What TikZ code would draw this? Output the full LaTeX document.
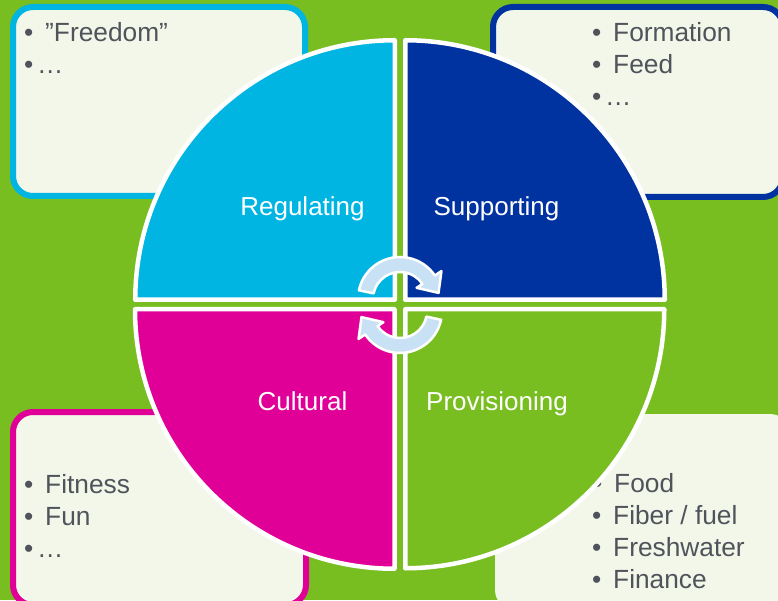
\documentclass[tikz,border=0pt]{standalone}
\usepackage{fontspec}
\setmainfont{Liberation Sans}
\definecolor{bggreen}{RGB}{120,190,32}
\definecolor{qcyan}{RGB}{0,181,226}
\definecolor{qblue}{RGB}{0,51,160}
\definecolor{qmag}{RGB}{224,0,152}
\definecolor{boxfill}{RGB}{242,247,234}
\definecolor{txtgrey}{RGB}{80,84,90}
\definecolor{arrowfill}{RGB}{200,225,244}
\newcommand{\bul}{\makebox[21pt][l]{•}}
\newcommand{\bulx}{\makebox[13pt][l]{•}}
\tikzset{
  infobox/.style={fill=boxfill, line width=6pt, rounded corners=20pt},
  quad/.style={draw=white, line width=4.5pt, line join=round},
  biglabel/.style={text=white, font=\fontsize{26}{30}\selectfont, anchor=base, inner sep=0pt},
  bullets/.style={text=txtgrey, font=\fontsize{26.3}{32}\selectfont, anchor=base west, inner sep=0pt, align=left},
  cyc/.style={fill=arrowfill, draw=white, line width=2.5pt, line join=round}
}
\begin{document}
\begin{tikzpicture}[x=1pt,y=1pt]
\useasboundingbox (0,0) rectangle (778,600);
\clip (0,0) rectangle (778,600);
\fill[bggreen] (0,0) rectangle (778,600);
% boxes
\draw[infobox, draw=qcyan] (13,593) rectangle (305,404);
\draw[infobox, draw=qblue] (493,593) rectangle (783,403);
\draw[infobox, draw=qmag] (13,188) rectangle (306,-5);
\fill[boxfill, rounded corners=20pt] (495,186) rectangle (790,-10);
% box texts
\node[bullets] (tltext) at (24,558) {\bul ”Freedom”};
\node[bullets] (tltext2) at (24,526) {\bulx …};
\node[bullets] (trtext) at (592,558) {\bul Formation};
\node[bullets] (trtext2) at (592,526) {\bul Feed};
\node[bullets] (trtext3) at (592,494) {\bulx …};
\node[bullets] (bltext) at (24,107) {\bul Fitness};
\node[bullets] (bltext2) at (24,75) {\bul Fun};
\node[bullets] (bltext3) at (24,43) {\bulx …};
\node[bullets] (brtext) at (593,108) {\bul Food};
\node[bullets] (brtext2) at (592,76) {\bul Fiber / fuel};
\node[bullets] (brtext3) at (592,44) {\bul Freshwater};
\node[bullets] (brtext4) at (592,12) {\bul Finance};
% quadrants
\draw[quad, fill=qcyan] (394.75,300.25) -- ++(180:259.5) arc[start angle=180,end angle=90,radius=259.5] -- cycle;
\draw[quad, fill=qblue] (405.25,300.25) -- ++(90:259.5) arc[start angle=90,end angle=0,radius=259.5] -- cycle;
\draw[quad, fill=qmag] (394.5,290.75) -- ++(270:259.5) arc[start angle=270,end angle=180,radius=259.5] -- cycle;
\draw[quad, fill=bggreen] (405.25,290.75) -- ++(0:259) arc[start angle=0,end angle=-90,radius=259] -- cycle;
% labels
\node[biglabel] (reg) at (302.5,384) {Regulating};
\node[biglabel] (sup) at (496.5,384) {Supporting};
\node[biglabel] (cul) at (302.5,190) {Cultural};
\node[biglabel] (pro) at (497,190) {Provisioning};
% cycle arrows
\begin{scope}[shift={(400,301)}]
\draw[cyc] (168:42) arc[start angle=168,end angle=34,radius=42] -- (34:50) -- (9:39) -- (34:20) -- (34:27) arc[start angle=34,end angle=168,radius=27] -- cycle;
\end{scope}
\begin{scope}[shift={(400,289)}, rotate=180]
\draw[cyc] (168:42) arc[start angle=168,end angle=34,radius=42] -- (34:50) -- (9:39) -- (34:20) -- (34:27) arc[start angle=34,end angle=168,radius=27] -- cycle;
\end{scope}
\end{tikzpicture}
\end{document}
